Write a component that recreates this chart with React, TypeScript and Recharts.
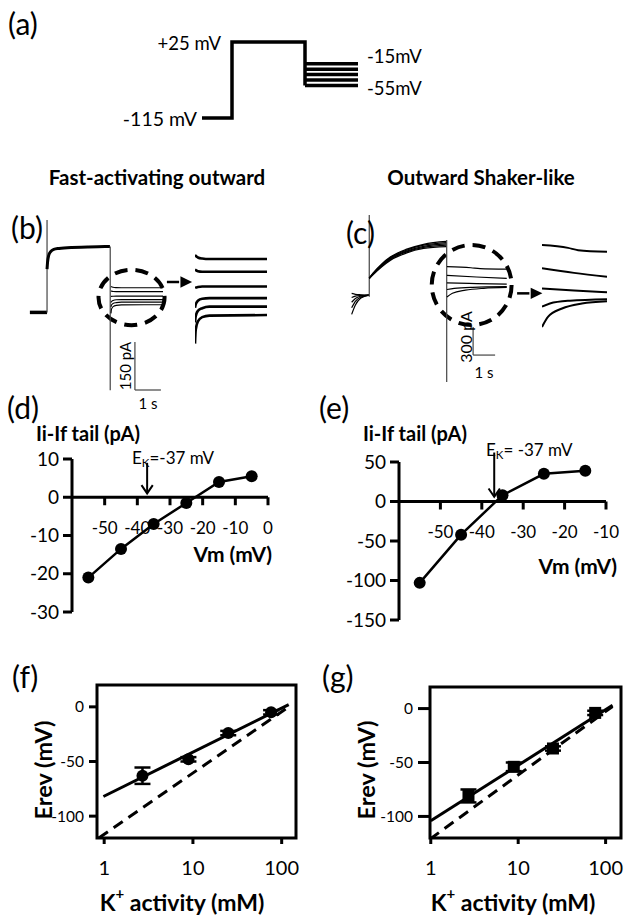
import React from 'react';
import {
  LineChart, Line, XAxis, YAxis, ReferenceLine, ReferenceArea, ReferenceDot,
  ComposedChart, Scatter, ErrorBar,
} from 'recharts';

const FONT = 'Lato, "DejaVu Sans", sans-serif';

// (a) voltage protocol, mV vs s
const protoT = [0, 0.3, 0.3, 1.03, 1.03];
const protoMv = [-115, -115, 25, 25, -55];
const stepMv = [-15, -25, -35, -45, -55];
const stepT = [1.03, 1.56];

// (b) fast-activating outward current, pA vs s
const bHoldT = [0.38, 1.04];
const bHoldI = [-95, -95];
const bSpikeT = [1.04, 1.04];
const bSpikeI = [-95, 194];
const bActT = [1.04, 1.06, 1.1, 1.18, 1.3, 1.5, 2.0, 2.6, 3.0, 3.46];
const bActI = [40, 62, 82, 95, 102, 105, 108, 109, 110, 111];
const bOffT = [3.47, 3.47];
const bOffI = [111, -338];
const bTailT = [3.5, 3.52, 3.58, 3.7, 3.9, 5.5];
const bTailI = [
  [-14, -15, -16.5, -17.5, -18, -18],
  [-28, -28.5, -29.5, -30, -30, -30],
  [-45.5, -45, -44.5, -44, -44, -44],
  [-64, -61, -57.5, -55.5, -55, -55],
  [-78, -72, -67, -64.5, -63, -63],
  [-98, -85, -77, -73, -71.5, -71],
];
const bZoomT = [3.02, 5.56];
const bZoomI = [-135, 38];
const bArrowT = [5.65, 6.62];
const bArrowI = 0;
const bBarT = 4.42;
const bBarI = -337.5;
const bBarPa = 150;

// (c) outward Shaker-like current, pA vs s
const cFanT = [0.53, 0.7, 0.95, 1.32];
const cFanI = [
  [55, 45, 40, 37],
  [10, 25, 33, 37],
  [-40, 0, 25, 37],
  [-100, -30, 15, 37],
  [-170, -70, 5, 37],
];
const cSpikeT = [1.33, 1.33];
const cSpikeI = [19, 893];
const cActT = [1.33, 1.5, 1.9, 2.3, 3.0, 3.8, 4.84];
const cActI = [
  [216, 270, 370, 445, 525, 580, 610],
  [216, 266, 362, 437, 515, 570, 598],
  [216, 262, 355, 428, 505, 558, 585],
  [216, 258, 348, 420, 495, 547, 570],
  [216, 255, 340, 410, 485, 535, 555],
];
const cOffT = [4.85, 4.85];
const cOffI = [625, -894];
const cTails = [
  { t: [4.86, 5.95, 6.37, 7.58], i: [340, 329, 320, 314] },
  { t: [4.86, 6.2, 7.58], i: [248, 230, 215] },
  { t: [4.86, 6.2, 7.58], i: [168, 160, 153] },
  { t: [4.86, 5.19, 6.03, 7.58], i: [96, 109, 120, 126] },
  { t: [4.86, 5.11, 5.7, 6.53, 7.58], i: [16, 56, 89, 109, 118] },
];
const cZoomT = [4.17, 7.8];
const cZoomI = [-284, 572];
const cArrowT = [8.05, 9.2];
const cArrowI = 55;
const cBarT = 6.05;
const cBarI = -605;
const cBarPa = 300;
const barSec = 1;

// (d) / (e) tail current vs voltage
const EK = -37;
const dVm = [-55, -45, -35, -25, -15, -5];
const dTail = [-21, -13.5, -7, -1.5, 4, 5.5];
const dYTicks = [10, 0, -10, -20, -30];
const dXTicks = [-50, -40, -30, -20, -10, 0];
const eVm = [-55, -45, -35, -25, -15];
const eTail = [-103, -42, 8, 35, 39];
const eYTicks = [50, 0, -50, -100, -150];
const eXTicks = [-50, -40, -30, -20, -10];

// (f) / (g) reversal potential vs K+ activity
const kAct = [2.7, 8.9, 25, 76];
const fErev = [-63, -48, -24, -5];
const fErr = [7.5, 2, 2, 2];
const gErev = [-81, -54, -37, -4];
const gErr = [6, 4, 2, 2];
const fFitK = [0.98, 120];
const fFitE = [-82, 2];
const fNernstK = [0.87, 125];
const fNernstE = [-120, 1];
const gFitK = [1, 120];
const gFitE = [-104, 3];
const gNernstK = [0.98, 120];
const gNernstE = [-121, 2];
const kTicks = [1, 10, 100];
const erevTicks = [0, -50, -100];

const pts = (xs: number[], ys: number[], xk = 't', yk = 'i') =>
  xs.map((x, n) => ({ [xk]: x, [yk]: ys[n] }));

const M0 = { top: 0, right: 0, bottom: 0, left: 0 };

const Box = ({ l, t, children }: any) => (
  <div style={{ position: 'absolute', left: l, top: t }}>{children}</div>
);

const trace = (key: string, data: any[], w: number, color = '#000', curve: any = 'monotone') => (
  <Line key={key} data={data} dataKey="i" type={curve} stroke={color} strokeWidth={w}
    dot={false} activeDot={false} isAnimationActive={false} strokeLinejoin="miter" />
);

const OpenArrow = (p: any) => {
  const { x1, y1, x2, y2 } = p;
  const a = Math.atan2(y2 - y1, x2 - x1);
  const h = 10;
  const s = 0.6;
  return (
    <g>
      <line x1={x1} y1={y1} x2={x2} y2={y2} stroke="#000" strokeWidth={2} />
      <polyline
        points={`${x2 - h * Math.cos(a - s)},${y2 - h * Math.sin(a - s)} ${x2},${y2} ${x2 - h * Math.cos(a + s)},${y2 - h * Math.sin(a + s)}`}
        fill="none" stroke="#000" strokeWidth={2} />
    </g>
  );
};

const FilledArrow = (p: any) => {
  const { x1, y1, x2, y2 } = p;
  const a = Math.atan2(y2 - y1, x2 - x1);
  const h = 13;
  const s = 0.45;
  const bx = x2 - h * Math.cos(a);
  const by = y2 - h * Math.sin(a);
  return (
    <g>
      <line x1={x1} y1={y1} x2={bx} y2={by} stroke="#000" strokeWidth={2.5} />
      <polygon
        points={`${x2},${y2} ${x2 - h * Math.cos(a - s)},${y2 - h * Math.sin(a - s)} ${x2 - h * Math.cos(a + s)},${y2 - h * Math.sin(a + s)}`}
        fill="#000" />
    </g>
  );
};

const DashedEllipse = (p: any) => (
  <ellipse cx={p.x + p.width / 2} cy={p.y + p.height / 2} rx={p.width / 2} ry={p.height / 2}
    fill="none" stroke="#000" strokeWidth={4} strokeDasharray="13 8" />
);

const BarLine = (p: any) => (
  <line x1={p.x1} y1={p.y1} x2={p.x2} y2={p.y2} stroke="#444" strokeWidth={1.2} />
);

const xTickAt = (label: number) => (p: any) => (
  <g>
    <line x1={p.cx} y1={p.cy} x2={p.cx} y2={p.cy + 8} stroke="#000" strokeWidth={3} />
    <text x={p.cx} y={p.cy + 30} textAnchor="middle" dominantBaseline="central"
      fontSize={17} fontFamily={FONT} fill="#000">{label}</text>
  </g>
);

const dotShape = (p: any) => <circle cx={p.cx} cy={p.cy} r={6} fill="#000" />;
const squareShape = (p: any) => <rect x={p.cx - 6} y={p.cy - 6} width={12} height={12} fill="#000" />;

const T = ({ x, y, s = 18, w = 400, a = 'start', r, children }: any) => (
  <text x={x} y={y} fontSize={s} fontWeight={w} textAnchor={a} dominantBaseline="central"
    fill="#000" fontFamily={FONT} transform={r ? `rotate(${r} ${x} ${y})` : undefined}>
    {children}
  </text>
);

const axisTickStyle = (size: number) => ({ fill: '#000', fontSize: size, fontFamily: FONT });
const blackLine = { stroke: '#000', strokeWidth: 3 };

const IvPanel = ({ vm, tail, yTicks, xTicks, yDomain, xDomain, yWidth, margin, w, h, arrowY }: any) => (
  <LineChart width={w} height={h} margin={margin}>
    <XAxis type="number" dataKey="v" domain={xDomain} hide allowDataOverflow />
    <YAxis type="number" domain={yDomain} ticks={yTicks} interval={0} width={yWidth} allowDataOverflow
      axisLine={blackLine} tickLine={blackLine} tickSize={9} tickMargin={4}
      tick={axisTickStyle(19)} />
    <ReferenceLine y={0} stroke="#000" strokeWidth={3} />
    {xTicks.map((v: number) => (
      <ReferenceDot key={v} x={v} y={0} shape={xTickAt(v)} />
    ))}
    <ReferenceLine segment={[{ x: EK, y: arrowY[0] }, { x: EK, y: arrowY[1] }]} shape={OpenArrow} ifOverflow="visible" />
    <Line data={pts(vm, tail, 'v', 'i')} dataKey="i" stroke="#000" strokeWidth={2.5}
      dot={{ r: 6, fill: '#000', stroke: '#000', strokeWidth: 0 }} activeDot={false}
      isAnimationActive={false} />
  </LineChart>
);

const ErevPanel = ({ erev, err, fitK, fitE, nK, nE, xDomain, yWidth, margin, w, h, shape, ySize }: any) => (
  <ComposedChart width={w} height={h} margin={margin}>
    <XAxis type="number" dataKey="k" scale="log" domain={xDomain} ticks={kTicks} interval={0}
      height={40} allowDataOverflow axisLine={false} tickLine={blackLine} tickSize={6} tickMargin={17}
      tick={axisTickStyle(20)} />
    <YAxis type="number" dataKey="e" domain={[-120, 20]} ticks={erevTicks} interval={0} width={yWidth}
      allowDataOverflow axisLine={false} tickLine={blackLine} tickSize={ySize} tickMargin={5}
      tick={axisTickStyle(15.5)} />
    <ReferenceArea x1={xDomain[0]} x2={xDomain[1]} y1={-120} y2={20} fill="none" fillOpacity={0}
      stroke="#000" strokeWidth={3} ifOverflow="visible" />
    <Line data={pts(nK, nE, 'k', 'e')} dataKey="e" stroke="#000" strokeWidth={3} strokeDasharray="11 7"
      dot={false} activeDot={false} isAnimationActive={false} />
    <Line data={pts(fitK, fitE, 'k', 'e')} dataKey="e" stroke="#000" strokeWidth={3}
      dot={false} activeDot={false} isAnimationActive={false} />
    <Scatter data={kAct.map((k, n) => ({ k, e: erev[n], err: err[n] }))} dataKey="e" shape={shape}
      isAnimationActive={false}>
      <ErrorBar dataKey="err" direction="y" width={8} strokeWidth={2.5} stroke="#000" />
    </Scatter>
  </ComposedChart>
);

const Ek = ({ x, y, gap }: any) => (
  <T x={x} y={y} s={17}>E<tspan fontSize={11.5} dy={5} fill="#000">K</tspan><tspan dy={-5} fill="#000">{gap ? '= -37 mV' : '=-37 mV'}</tspan></T>
);

const KLabel = ({ x }: any) => (
  <T x={x} y={902} s={23} w={700} a="middle">K<tspan fontSize={15} dy={-9} fill="#000">+</tspan><tspan dy={9} fill="#000"> activity (mM)</tspan></T>
);

export default function App() {
  return (
    <div style={{ position: 'absolute', left: 0, top: 0, width: 626, height: 915, background: '#fff', overflow: 'hidden' }}>
      {/* (a) protocol */}
      <Box l={200} t={38}>
        <LineChart width={162} height={84} margin={M0}>
          <XAxis type="number" dataKey="t" domain={[-0.02, 1.6]} hide allowDataOverflow />
          <YAxis type="number" domain={[-122.37, 32.37]} hide allowDataOverflow />
          {trace('p', pts(protoT, protoMv), 3.5, '#000', 'linear')}
          {stepMv.map((v, n) => trace(`s${n}`, pts(stepT, [v, v]), 3.5, '#000', 'linear'))}
        </LineChart>
      </Box>

      {/* (b) main traces */}
      <Box l={20} t={210}>
        <LineChart width={182} height={200} margin={M0}>
          <XAxis type="number" dataKey="t" domain={[0, 7]} hide allowDataOverflow />
          <YAxis type="number" domain={[-400, 225]} hide allowDataOverflow />
          {trace('hold', pts(bHoldT, bHoldI), 3.5, '#000', 'linear')}
          {trace('spk', pts(bSpikeT, bSpikeI), 1.2, '#444', 'linear')}
          {trace('act', pts(bActT, bActI), 3, '#000')}
          {trace('off', pts(bOffT, bOffI), 1.2, '#444', 'linear')}
          {bTailI.map((ys, n) => trace(`bt${n}`, pts(bTailT, ys), 1.1))}
          <ReferenceArea x1={bZoomT[0]} x2={bZoomT[1]} y1={bZoomI[0]} y2={bZoomI[1]} shape={DashedEllipse} ifOverflow="visible" />
          <ReferenceLine segment={[{ x: bArrowT[0], y: bArrowI }, { x: bArrowT[1], y: bArrowI }]} shape={FilledArrow} ifOverflow="visible" />
          <ReferenceLine segment={[{ x: bBarT, y: bBarI + bBarPa }, { x: bBarT, y: bBarI }]} shape={BarLine} ifOverflow="visible" />
          <ReferenceLine segment={[{ x: bBarT, y: bBarI }, { x: bBarT + barSec, y: bBarI }]} shape={BarLine} ifOverflow="visible" />
        </LineChart>
      </Box>
      {/* (b) magnified tails */}
      <Box l={195} t={245}>
        <LineChart width={72} height={106} margin={M0}>
          <XAxis type="number" dataKey="t" domain={[3.5, 5.5]} hide allowDataOverflow />
          <YAxis type="number" domain={[-105, -4.7]} hide allowDataOverflow />
          {bTailI.map((ys, n) => trace(`bz${n}`, pts(bTailT, ys), 2.6))}
        </LineChart>
      </Box>

      {/* (c) main traces */}
      <Box l={340} t={205}>
        <LineChart width={209} height={187} margin={M0}>
          <XAxis type="number" dataKey="t" domain={[0, 9.5]} hide allowDataOverflow />
          <YAxis type="number" domain={[-1000, 1000]} hide allowDataOverflow />
          {cFanI.map((ys, n) => trace(`cf${n}`, pts(cFanT, ys), 1.2))}
          {trace('cspk', pts(cSpikeT, cSpikeI), 1.2, '#444', 'linear')}
          {cActI.map((ys, n) => trace(`ca${n}`, pts(cActT, ys), 1.3))}
          {trace('coff', pts(cOffT, cOffI), 1.2, '#444', 'linear')}
          {cTails.map((tr, n) => trace(`ct${n}`, pts(tr.t, tr.i), 1.2))}
          <ReferenceArea x1={cZoomT[0]} x2={cZoomT[1]} y1={cZoomI[0]} y2={cZoomI[1]} shape={DashedEllipse} ifOverflow="visible" />
          <ReferenceLine segment={[{ x: cArrowT[0], y: cArrowI }, { x: cArrowT[1], y: cArrowI }]} shape={FilledArrow} ifOverflow="visible" />
          <ReferenceLine segment={[{ x: cBarT, y: cBarI + cBarPa }, { x: cBarT, y: cBarI }]} shape={BarLine} ifOverflow="visible" />
          <ReferenceLine segment={[{ x: cBarT, y: cBarI }, { x: cBarT + barSec, y: cBarI }]} shape={BarLine} ifOverflow="visible" />
        </LineChart>
      </Box>
      {/* (c) magnified tails */}
      <Box l={542} t={235}>
        <LineChart width={65} height={100} margin={M0}>
          <XAxis type="number" dataKey="t" domain={[4.86, 7.58]} hide allowDataOverflow />
          <YAxis type="number" domain={[-16, 380]} hide allowDataOverflow />
          {cTails.map((tr, n) => trace(`cz${n}`, pts(tr.t, tr.i), 2))}
        </LineChart>
      </Box>

      {/* (d) */}
      <Box l={0} t={445}>
        <IvPanel vm={dVm} tail={dTail} yTicks={dYTicks} xTicks={dXTicks} yDomain={[-30, 10]} xDomain={[-60, 0]}
          yWidth={72} margin={{ top: 14, right: 22, bottom: 16, left: 0 }} w={290} h={183} arrowY={[9, 1]} />
      </Box>
      {/* (e) */}
      <Box l={310} t={445}>
        <IvPanel vm={eVm} tail={eTail} yTicks={eYTicks} xTicks={eXTicks} yDomain={[-150, 50]} xDomain={[-60, -10]}
          yWidth={89} margin={{ top: 17, right: 20, bottom: 14, left: 0 }} w={316} h={189} arrowY={[62, 6]} />
      </Box>

      {/* (f) */}
      <Box l={0} t={670}>
        <ErevPanel erev={fErev} err={fErr} fitK={fFitK} fitE={fFitE} nK={fNernstK} nE={fNernstE}
          xDomain={[0.83, 145]} yWidth={97} margin={{ top: 15, right: 14, bottom: 7, left: 0 }}
          w={310} h={215} shape={dotShape} ySize={8} />
      </Box>
      {/* (g) */}
      <Box l={310} t={670}>
        <ErevPanel erev={gErev} err={gErr} fitK={gFitK} fitE={gFitE} nK={gNernstK} nE={gNernstE}
          xDomain={[0.98, 150]} yWidth={120} margin={{ top: 17, right: 5, bottom: 7, left: 0 }}
          w={316} h={215} shape={squareShape} ySize={12} />
      </Box>

      <svg width={626} height={915} style={{ position: 'absolute', left: 0, top: 0, pointerEvents: 'none' }}>
        <T x={8} y={23} s={30}>(a)</T>
        <T x={221} y={43} s={18.5} a="end">+25 mV</T>
        <T x={197} y={118} s={19.5} a="end">-115 mV</T>
        <T x={367} y={56} s={18.5}>-15mV</T>
        <T x={367} y={88} s={18.5}>-55mV</T>

        <T x={157} y={177} s={20.5} w={700} a="middle">Fast-activating outward</T>
        <T x={481} y={177} s={20.5} w={700} a="middle">Outward Shaker-like</T>
        <T x={11} y={227} s={30}>(b)</T>
        <T x={346} y={232} s={30}>(c)</T>
        <T x={125} y={366} s={15} a="middle" r={-90}>150 pA</T>
        <T x={148} y={403} s={15} a="middle">1 s</T>
        <T x={465} y={337} s={16} a="middle" r={-90}>300 pA</T>
        <T x={484} y={372} s={15} a="middle">1 s</T>

        <T x={7} y={407} s={30}>(d)</T>
        <T x={319} y={407} s={30}>(e)</T>
        <T x={36} y={433} s={20} w={700}>Ii-If tail (pA)</T>
        <T x={363} y={433} s={20} w={700}>Ii-If tail (pA)</T>
        <Ek x={132} y={457} />
        <Ek x={486} y={449} gap />
        <T x={272} y={553} s={21} w={700} a="end">Vm (mV)</T>
        <T x={617} y={565} s={21} w={700} a="end">Vm (mV)</T>

        <T x={12} y={676} s={30}>(f)</T>
        <T x={322} y={676} s={30}>(g)</T>
        <T x={43} y={770} s={23.5} w={700} a="middle" r={-90}>Erev (mV)</T>
        <T x={366} y={770} s={23.5} w={700} a="middle" r={-90}>Erev (mV)</T>
        <KLabel x={182} />
        <KLabel x={513} />
      </svg>
    </div>
  );
}
